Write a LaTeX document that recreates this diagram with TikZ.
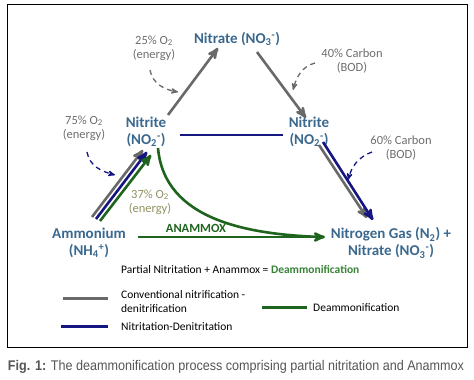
\documentclass[tikz,border=0pt]{standalone}
\usepackage{fontspec}
\setmainfont{Carlito}
\newfontfamily\capfont{Liberation Sans}
\usepackage{tikz}
\usetikzlibrary{arrows,positioning,calc}
\definecolor{speciescol}{RGB}{58,104,142}
\definecolor{notecol}{RGB}{110,110,110}
\definecolor{convcol}{RGB}{105,105,105}
\definecolor{nitrcol}{RGB}{22,22,128}
\definecolor{deamcol}{RGB}{30,100,30}
\definecolor{energycol}{RGB}{145,145,100}
\definecolor{deamtext}{RGB}{55,130,55}
\definecolor{capcol}{RGB}{85,85,85}

\begin{document}
\begin{tikzpicture}[x=1pt,y=1pt,>=stealth',
        species/.style={font=\bfseries\fontsize{15}{17}\selectfont,text=speciescol,align=center,inner sep=0pt},
        note/.style={font=\fontsize{12.5}{14}\selectfont,text=notecol,align=center,inner sep=0pt},
        legend/.style={font=\fontsize{11.5}{14}\selectfont,align=left,anchor=west,inner sep=0pt},
        conv/.style={line width=2.6pt,draw=convcol},
        nitr/.style={line width=2.6pt,draw=nitrcol},
        deam/.style={line width=2.6pt,draw=deamcol},
        hint/.style={->,line width=1.3pt,dash pattern=on 5pt off 4pt}]
        \useasboundingbox (0,0) rectangle (474,380);
        \draw[line width=1pt] (7,32) rectangle (467,375);
        \node[species] at (237,341) (nitrate) {Nitrate (NO\textsubscript{3}\textsuperscript{-})};
        \node[species] at (146,248) (nitriteL) {Nitrite\\(NO\textsubscript{2}\textsuperscript{-})};
        \node[species] at (309,248) (nitriteR) {Nitrite\\(NO\textsubscript{2}\textsuperscript{-})};
        \node[species] at (89,137) (ammonium) {Ammonium\\(NH\textsubscript{4}\textsuperscript{+})};
        \node[species] at (391,137) (ngas) {Nitrogen Gas (N\textsubscript{2}) +\\Nitrate (NO\textsubscript{3}\textsuperscript{-})};
        \node[note] at (154,332) (o25) {25\% O\textsubscript{2}\\(energy)};
        \node[note] at (352,319) (c40) {40\% Carbon\\(BOD)};
        \node[note] at (84,252) (o75) {75\% O\textsubscript{2}\\(energy)};
        \node[note] at (401,232) (c60) {60\% Carbon\\(BOD)};
        \node[note,text=energycol] at (150,178) (o37) {37\% O\textsubscript{2}\\(energy)};
        \node[note,text=deamcol,font=\bfseries\fontsize{12.5}{14}\selectfont] at (196,152) (anammox) {ANAMMOX};
        \node[legend] at (121,110) (sum) {Partial Nitritation + Anammox = \textcolor{deamtext}{\bfseries Deammonification}};
        \node[legend] at (121,78) (lconv) {Conventional nitrification -\\denitrification};
        \node[legend] at (313,72) (ldeam) {Deammonification};
        \node[legend] at (121,53) (lnitr) {Nitritation-Denitritation};
        \node[font=\capfont\fontsize{14}{16}\selectfont,text=capcol] at (236,13) (caption)
            {\scalebox{0.9}[1]{\textbf{Fig. 1:} The deammonification process comprising partial nitritation and Anammox}};
        \draw[conv,->] ($(nitriteL)+(22,17)$) to ($(nitrate)+(-19,-9)$);
        \draw[conv,->] ($(nitrate)+(20,-13)$) to ($(nitriteR)+(-3,14)$);
        \draw[nitr] ($(nitriteL)+(34,-3)$) to ($(nitriteR)+(-26,-3)$);
        \draw[conv,->] ($(ammonium)+(3,26)$) to ($(nitriteL)+(-3,-18)$);
        \draw[nitr,->] ($(ammonium)+(7,24)$) to ($(nitriteL)+(1,-20)$);
        \draw[deam,->] ($(ammonium)+(11,22)$) to ($(nitriteL)+(5,-23)$);
        \draw[conv,->] ($(nitriteR)+(10,-13)$) to ($(ngas)+(-24,25)$);
        \draw[nitr,->] ($(nitriteR)+(14,-10)$) to ($(ngas)+(-18,23)$);
        \draw[deam,->] ($(ammonium)+(49,6)$) to ($(ngas)+(-66,6)$);
        \draw[deam] ($(nitriteL)+(12,-16)$) to[out=-85,in=178] ($(ngas)+(-70,6)$);
        \draw[hint,convcol] ($(o25)+(-4,-22)$) to[out=-80,in=170] ($(o25)+(24,-44)$);
        \draw[hint,convcol] ($(c40)+(-37,-2)$) to[out=195,in=75] ($(c40)+(-59,-29)$);
        \draw[hint,nitrcol] ($(o75)+(3,-24)$) to[out=-80,in=165] ($(o75)+(31,-47)$);
        \draw[hint,nitrcol] ($(c60)+(-29,-4)$) to[out=200,in=75] ($(c60)+(-53,-32)$);
        \draw[convcol,line width=3pt] ($(lconv.west)+(-58,3)$) to ($(lconv.west)+(-13,3)$);
        \draw[deamcol,line width=3pt] ($(ldeam.west)+(-51,0)$) to ($(ldeam.west)+(-6,0)$);
        \draw[nitrcol,line width=3pt] ($(lnitr.west)+(-60,0)$) to ($(lnitr.west)+(-13,0)$);
      \end{tikzpicture}
\end{document}
